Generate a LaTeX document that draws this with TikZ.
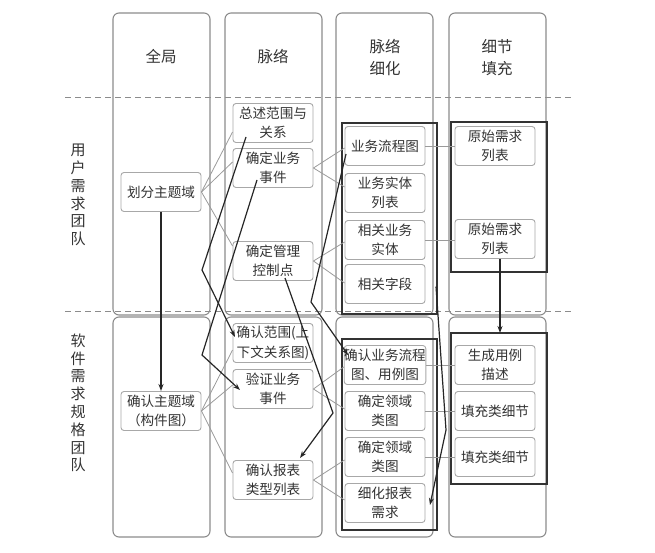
\documentclass[tikz,border=0pt]{standalone}
\usepackage{fontspec}
\newfontfamily\cjk{Noto Sans CJK SC}
\usetikzlibrary{arrows.meta,calc}

\definecolor{lanegray}{HTML}{8C8C8C}
\definecolor{boxgray}{HTML}{A8A8A8}
\definecolor{textgray}{HTML}{333333}
\definecolor{linkgray}{HTML}{9A9A9A}
\definecolor{flowblack}{HTML}{262626}
\definecolor{groupdark}{HTML}{333333}

\begin{document}
\begin{tikzpicture}[x=1pt,y=-1pt,
  lane/.style={draw=lanegray, line width=1.1pt, rounded corners=6pt},
  sep/.style={draw=lanegray, line width=0.9pt, dash pattern=on 6pt off 4pt},
  head/.style={align=center, text=textgray, font=\cjk\fontsize{15.5}{22}\selectfont},
  team/.style={align=center, text=textgray, font=\cjk\fontsize{15}{17.8}\selectfont},
  box/.style={draw=boxgray, fill=white, line width=0.9pt, rounded corners=3pt,
    minimum width=80pt, minimum height=39pt, inner sep=0pt, align=center,
    text=textgray, font=\cjk\fontsize{13.6}{19.5}\selectfont},
  group/.style={draw=groupdark, line width=1.5pt, inner sep=0pt, outer sep=0pt},
  link/.style={draw=linkgray, line width=0.8pt},
  flow/.style={draw=flowblack, line width=1.2pt, -{Stealth[length=7pt,width=5pt]}}]

\useasboundingbox (0,0) rectangle (655,553);

% swimlane columns: upper part (header + user team), lower part (software team)
\foreach \x in {113,225,336,449}{
  \draw[lane] (\x,13) rectangle ({\x+97},315);
  \draw[lane] (\x,317) rectangle ({\x+97},537);
}

% team separators
\draw[sep] (65,97) -- (571,97);
\draw[sep] (65,311) -- (571,311);

% column headers
\node[head] (h1) at (161,57) {全局};
\node[head] (h2) at (273,57) {脉络};
\node[head] (h3) at (385,58) {脉络\\细化};
\node[head] (h4) at (497,58) {细节\\填充};

% team labels (vertical)
\node[team] (tu) at (78,195) {用\\户\\需\\求\\团\\队};
\node[team] (ts) at (78,403) {软\\件\\需\\求\\规\\格\\团\\队};

% groups of detailed items
\node[group, minimum width=95pt, minimum height=191pt] (g1) at (389.5,218.5) {};
\node[group, minimum width=96pt, minimum height=150pt] (g2) at (499,197) {};
\node[group, minimum width=95pt, minimum height=191pt] (g3) at (389.5,434.5) {};
\node[group, minimum width=96pt, minimum height=151pt] (g4) at (499,408.5) {};

% global column
\node[box] (d1) at (161,192) {划分主题域};
\node[box] (c1) at (161,411) {确认主题域\\（构件图）};

% context column
\node[box] (s1) at (273,123) {总述范围与\\关系};
\node[box] (e1) at (273,168) {确定业务\\事件};
\node[box] (m1) at (273,261) {确定管理\\控制点};
\node[box] (k1) at (273,343) {确认范围(上\\下文关系图)};
\node[box] (v1) at (273,389) {验证业务\\事件};
\node[box] (t1) at (273,480) {确认报表\\类型列表};

% refinement column
\node[box] (f1) at (385,146) {业务流程图};
\node[box] (b1) at (385,193) {业务实体\\列表};
\node[box] (r1) at (385,240) {相关业务\\实体};
\node[box] (z1) at (385,284) {相关字段};
\node[box] (c2) at (385,365) {确认业务流程\\图、用例图};
\node[box] (l1) at (385,411) {确定领域\\类图};
\node[box] (l2) at (385,457) {确定领域\\类图};
\node[box] (x4) at (385,503) {细化报表\\需求};

% detail column
\node[box] (o1) at (495,146) {原始需求\\列表};
\node[box] (o2) at (495,239) {原始需求\\列表};
\node[box] (u1) at (495,365) {生成用例\\描述};
\node[box] (p1) at (495,411) {填充类细节};
\node[box] (p2) at (495,457) {填充类细节};

% decomposition links
\draw[link] (d1.east) -- ($(s1.west)+(0,9)$);
\draw[link] (d1.east) -- ($(e1.west)+(0,-6)$);
\draw[link] (d1.east) -- ($(m1.west)+(0,-15)$);
\draw[link] (e1.east) -- ($(f1.west)+(0,2)$);
\draw[link] (e1.east) -- ($(b1.west)+(0,-6)$);
\draw[link] (m1.east) -- ($(r1.west)+(0,2)$);
\draw[link] (m1.east) -- ($(z1.west)+(0,-1)$);
\draw[link] (c1.east) -- ($(k1.west)+(0,7)$);
\draw[link] (c1.east) -- ($(v1.west)+(0,-4)$);
\draw[link] (c1.east) -- ($(t1.west)+(0,-7)$);
\draw[link] (v1.east) -- ($(c2.west)+(0,2)$);
\draw[link] (v1.east) -- ($(l1.west)+(0,-2)$);
\draw[link] (t1.east) -- ($(l2.west)+(0,3)$);
\draw[link] (t1.east) -- ($(x4.west)+(0,-3)$);
\draw[link] (f1.east) -- (o1.west);
\draw[link] (r1.east) -- (r1.east -| o2.west);
\draw[link] (c2.east) -- (u1.west);
\draw[link] (l1.east) -- (p1.west);
\draw[link] (l2.east) -- (p2.west);

% hand-over flows from user team to software team
\coordinate (o2s) at ($(o2.south)+(5,0)$);
\draw[flow] (d1.south) -- (c1.north);
\draw[flow] ($(s1)+(-27,14)$) -- (202,270) -- ($(k1)+(-38,-6)$);
\draw[flow] ($(e1)+(-16,12)$) -- (202,355) -- ($(v1)+(-33,1)$);
\draw[flow] ($(m1)+(12,17)$) -- (333,413) -- ($(t1)+(27,-22)$);
\draw[flow] ($(f1)+(-39,8)$) -- (311,302) -- ($(c2)+(-37,-10)$);
\draw[flow] ($(g1.east)+(-1,68)$) -- (446,430) -- ($(x4)+(45,2)$);
\draw[flow] (o2s) -- (o2s |- g4.north);

\end{tikzpicture}
\end{document}
